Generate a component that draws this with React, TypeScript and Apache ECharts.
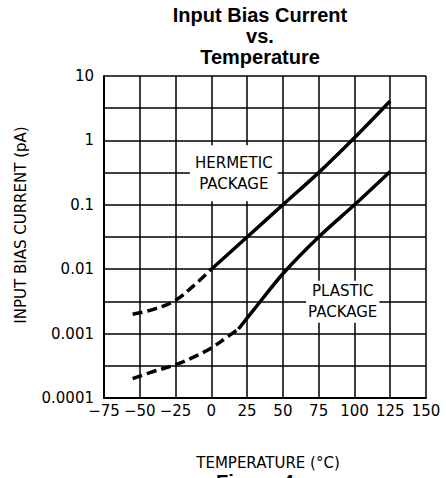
import React, { useEffect, useRef } from "react";
import * as echarts from "echarts";

// X axis ticks (°C)
const xMin = -75;
const xMax = 150;
const xStep = 25;
// Y tick labels (decades, pA)
const yTickLabels = ["0.0001", "0.001", "0.01", "0.1", "1", "10"];

// HERMETIC PACKAGE
const hermDashT = [-55, -40, -25, -12.5, 0];
const hermDashV = [0.002, 0.0024, 0.0033, 0.0055, 0.01];
const hermSolidT = [0, 25, 50, 75, 100, 125];
const hermSolidV = [0.01, 0.0316, 0.1, 0.316, 1.1, 4.1];

// PLASTIC PACKAGE
const plasDashT = [-55, -40, -25, -12.5, 0, 10, 19];
const plasDashV = [0.0002, 0.00026, 0.00033, 0.00043, 0.0006, 0.00085, 0.00118];
const plasSolidT = [19, 30, 50, 75, 100, 125];
const plasSolidV = [0.00118, 0.0024, 0.0085, 0.0316, 0.1, 0.33];

// annotation anchors (data coords)
const hermLabel = { t: 15.7, v: 0.31, text: "HERMETIC\nPACKAGE" };
const plasLabel = { t: 91.8, v: 0.00312, text: "PLASTIC\nPACKAGE" };

const zip = (a: number[], b: number[]) => a.map((x, i) => [x, b[i]]);

const FONT = "DejaVu Sans, Arial, sans-serif";

export default function App() {
  const ref = useRef<HTMLDivElement>(null);
  useEffect(() => {
    document.body.style.margin = "0";
    const chart = echarts.init(ref.current!, undefined, { renderer: "svg" });
    const lineBase = { type: "line", showSymbol: false, symbol: "none", xAxisIndex: 0, yAxisIndex: 0 };
    const gridLine = { show: true, lineStyle: { color: "#000", width: 1.5 } };
    chart.setOption({
      animation: false,
      backgroundColor: "#fff",
      title: {
        text: "Input Bias Current\nvs.\nTemperature",
        left: 255,
        top: -1,
        textAlign: "center",
        textStyle: {
          fontFamily: "Liberation Sans, Arial, sans-serif",
          fontWeight: "bold",
          fontSize: 20,
          lineHeight: 21,
          color: "#000",
        },
      },
      grid: { left: 104, top: 76, width: 322, height: 322 },
      xAxis: {
        type: "value",
        min: xMin,
        max: xMax,
        interval: xStep,
        name: "TEMPERATURE (°C)",
        nameLocation: "middle",
        nameGap: 57,
        nameTextStyle: { fontFamily: FONT, fontSize: 15, color: "#000", padding: [0, 0, 0, 6] },
        axisLine: { show: true, onZero: false, lineStyle: { color: "#000", width: 2 } },
        axisTick: { show: false },
        axisLabel: {
          fontFamily: FONT,
          fontSize: 15,
          color: "#000",
          margin: 5,
          formatter: (v: number) => String(v).replace("-", "\u2212"),
        },
        splitLine: gridLine,
      },
      yAxis: [
        {
          type: "log",
          logBase: 10,
          min: 0.0001,
          max: 10,
          name: "INPUT BIAS CURRENT (pA)",
          nameLocation: "middle",
          nameGap: 76,
          nameTextStyle: { fontFamily: FONT, fontSize: 15, color: "#000", padding: [0, 0, 0, 24] },
          axisLine: { show: true, onZero: false, lineStyle: { color: "#000", width: 2 } },
          axisTick: { show: false },
          splitLine: { show: false },
          axisLabel: {
            fontFamily: FONT,
            fontSize: 15,
            color: "#000",
            margin: 10,
            formatter: (v: number) => {
              const k = Math.round(Math.log10(v)) + 4;
              return yTickLabels[k] ?? "";
            },
          },
        },
        {
          type: "value",
          min: -4,
          max: 1,
          interval: 0.5,
          position: "right",
          axisLine: { show: false },
          axisTick: { show: false },
          axisLabel: { show: false },
          splitLine: gridLine,
        },
      ],
      series: [
        { ...lineBase, name: "Hermetic (dashed)", data: zip(hermDashT, hermDashV), smooth: 0.4, lineStyle: { color: "#000", width: 3.5, type: [10, 5] } },
        { ...lineBase, name: "Hermetic", data: zip(hermSolidT, hermSolidV), smooth: 0.3, lineStyle: { color: "#000", width: 3.5 } },
        { ...lineBase, name: "Plastic (dashed)", data: zip(plasDashT, plasDashV), smooth: 0.4, lineStyle: { color: "#000", width: 3.5, type: [10, 5] } },
        { ...lineBase, name: "Plastic", data: zip(plasSolidT, plasSolidV), smooth: 0.3, lineStyle: { color: "#000", width: 3.5 } },
      ],
    });
    const p1 = chart.convertToPixel({ xAxisIndex: 0, yAxisIndex: 0 }, [hermLabel.t, hermLabel.v]) as number[];
    const p2 = chart.convertToPixel({ xAxisIndex: 0, yAxisIndex: 0 }, [plasLabel.t, plasLabel.v]) as number[];
    const labelStyle = {
      fill: "#000",
      font: `15px ${FONT}`,
      align: "center",
      verticalAlign: "middle",
      lineHeight: 21,
      backgroundColor: "#fff",
    };
    chart.setOption({
      graphic: [
        { type: "text", x: p1[0], y: p1[1], z: 100, style: { ...labelStyle, text: hermLabel.text, padding: [6, 5, 8, 5] } },
        { type: "text", x: p2[0], y: p2[1], z: 100, style: { ...labelStyle, text: plasLabel.text, padding: [0, 2, 0, 2] } },
        {
          type: "text",
          left: 255 - 39,
          top: 472,
          style: { text: "Figure 4", fill: "#000", font: "bold 20px Liberation Sans, Arial, sans-serif" },
        },
      ],
    });
    return () => chart.dispose();
  }, []);
  return <div ref={ref} style={{ width: 446, height: 478 }} />;
}
